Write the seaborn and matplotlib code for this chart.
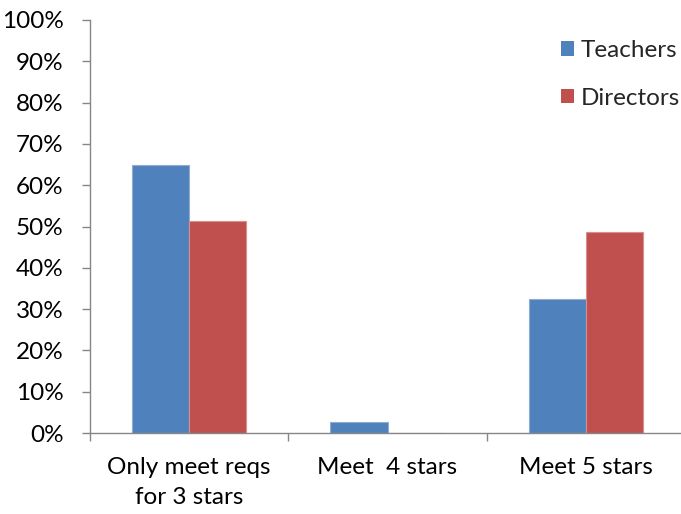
import matplotlib
matplotlib.use("Agg")
import matplotlib.pyplot as plt
import seaborn as sns
import pandas as pd
from matplotlib.ticker import FixedLocator, PercentFormatter
from matplotlib.patches import Patch

categories = ["Only meet reqs\nfor 3 stars", "Meet  4 stars", "Meet 5 stars"]
series_names = ["Teachers", "Directors"]
teachers = [64.9, 2.7, 32.4]
directors = [51.4, 0.0, 48.6]
colors = ["#4F81BD", "#C0504D"]
edge_colors = ["#8EACD4", "#D98F8D"]

df = pd.DataFrame({
    "category": categories * 2,
    "group": [series_names[0]] * 3 + [series_names[1]] * 3,
    "value": teachers + directors,
})

sns.set_theme(style="white")
plt.rcParams["font.family"] = ["Lato", "DejaVu Sans"]
fs = 17.5

fig = plt.figure(figsize=(6.81, 5.14), dpi=100)
ax = fig.add_axes([90 / 681, (514 - 433) / 514, (685 - 90) / 681, (433 - 20) / 514])

sns.barplot(data=df, x="category", y="value", hue="group", order=categories,
            hue_order=series_names, palette=colors, width=0.576, ax=ax,
            legend=False, saturation=1, linewidth=0)

# light outline on each bar
for container, ec in zip(ax.containers, edge_colors):
    for bar in container:
        bar.set_edgecolor(ec)
        bar.set_linewidth(0.8)

ax.set_xlim(-0.5, 2.5)
ax.set_ylim(0, 100)
ax.set_xlabel("")
ax.set_ylabel("")

axis_gray = "#868686"
for side in ["top", "right"]:
    ax.spines[side].set_visible(False)
for side in ["left", "bottom"]:
    ax.spines[side].set_color(axis_gray)
    ax.spines[side].set_linewidth(1.0)

ax.yaxis.set_major_locator(FixedLocator(range(0, 101, 10)))
ax.yaxis.set_major_formatter(PercentFormatter(decimals=0))
ax.tick_params(axis="y", which="major", direction="out", length=6, width=1,
               color=axis_gray, left=True, labelsize=fs, labelcolor="black", pad=13)

# category labels centred, tick marks at the category boundaries
ax.xaxis.set_minor_locator(FixedLocator([-0.5, 0.5, 1.5, 2.5]))
ax.tick_params(axis="x", which="major", length=0, labelsize=fs, labelcolor="black", pad=17)
ax.tick_params(axis="x", which="minor", direction="out", length=6, width=1,
               color=axis_gray, bottom=True)
for lbl in ax.get_xticklabels():
    lbl.set_linespacing(1.55)
    lbl.set_verticalalignment("top")

handles = [Patch(facecolor=c, edgecolor="none") for c in colors]
fig.legend(handles, series_names, loc="upper left", bbox_to_anchor=(561 / 681, 1 - 40 / 514),
           frameon=False, fontsize=fs, handlelength=0.55, handleheight=0.55,
           handletextpad=0.25, labelspacing=1.1, borderaxespad=0, borderpad=0)

fig.savefig("out.png", dpi=100)
